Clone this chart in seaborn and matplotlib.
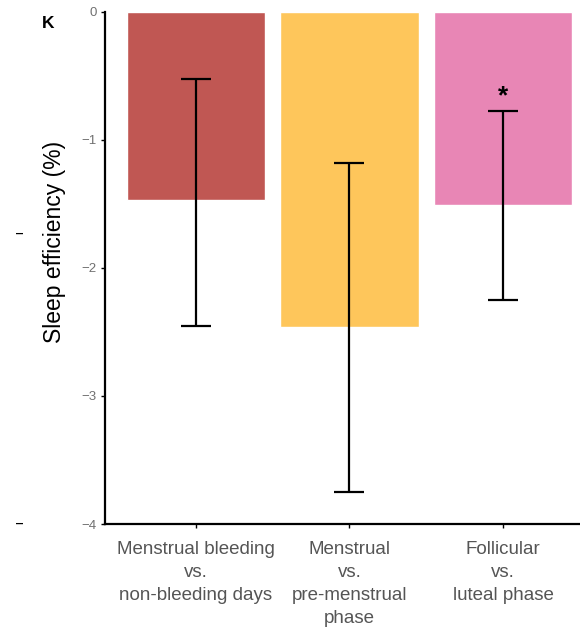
import matplotlib
matplotlib.use("Agg")
import matplotlib.pyplot as plt
import seaborn as sns
import pandas as pd

# Contrasts and their estimated change in sleep efficiency (%), with 95% CI
categories = [
    "Menstrual bleeding\nvs.\nnon-bleeding days",
    "Menstrual\nvs.\npre-menstrual\nphase",
    "Follicular\nvs.\nluteal phase",
]
estimates = [-1.47, -2.46, -1.51]
ci_upper = [-0.52, -1.18, -0.77]
ci_lower = [-2.45, -3.75, -2.25]
significance = ["", "", "*"]
bar_colors = ["#C05753", "#FEC65B", "#E886B5"]
y_ticks = [0, -1, -2, -3, -4]

df = pd.DataFrame({"contrast": categories, "estimate": estimates})

sns.set_theme(style="white")
plt.rcParams["font.family"] = ["Liberation Sans", "DejaVu Sans"]

fig = plt.figure(figsize=(5.8, 6.28), dpi=100)
ax = fig.add_axes([0.181, 0.1656, 0.819, 0.8154])

sns.barplot(data=df, x="contrast", y="estimate", hue="contrast",
            palette=bar_colors, width=0.9, legend=False, ax=ax,
            errorbar=None, saturation=1)

xs = list(range(len(categories)))
yerr = [[e - lo for e, lo in zip(estimates, ci_lower)],
        [hi - e for e, hi in zip(estimates, ci_upper)]]
ax.errorbar(xs, estimates, yerr=yerr, fmt="none", ecolor="black",
            elinewidth=1.6, capsize=11, capthick=1.6)

for x, hi, s in zip(xs, ci_upper, significance):
    if s:
        ax.text(x, hi + 0.11, s, ha="center", va="center",
                fontsize=19, fontweight="bold", color="black")

ax.set_ylim(-4, 0)
ax.set_xlim(-0.59, 2.5)
ax.set_yticks(y_ticks)
ax.set_yticklabels(["0", "\u22121", "\u22122", "\u22123", "\u22124"])
ax.tick_params(axis="y", labelsize=9.5, labelcolor="#707070", length=3,
               width=1, color="black", left=True, pad=3)
ax.tick_params(axis="x", labelsize=13.5, labelcolor="#555555", length=3,
               width=1, color="black", bottom=True, pad=9.5)
for lbl in ax.get_xticklabels():
    lbl.set_linespacing(1.44)
ax.set_xlabel("")
ax.set_ylabel("Sleep efficiency (%)", fontsize=16.5, color="black")
ax.yaxis.set_label_coords(-0.082, 0.55)

for side in ["top", "right"]:
    ax.spines[side].set_visible(False)
for side in ["left", "bottom"]:
    ax.spines[side].set_color("black")
    ax.spines[side].set_linewidth(1.6)

fig.text(0.083, 0.963, "K", fontsize=12.5, fontweight="bold", ha="center",
         va="center", color="black")
# small dash marks in the left margin
for yv in (-1.73, -4.0):
    fig.text(0.034, ax.transData.transform((0, yv))[1] / fig.bbox.height,
             "\u2012", fontsize=9, fontweight="bold", ha="center",
             va="center", color="black")

fig.savefig("out.png", dpi=100)
